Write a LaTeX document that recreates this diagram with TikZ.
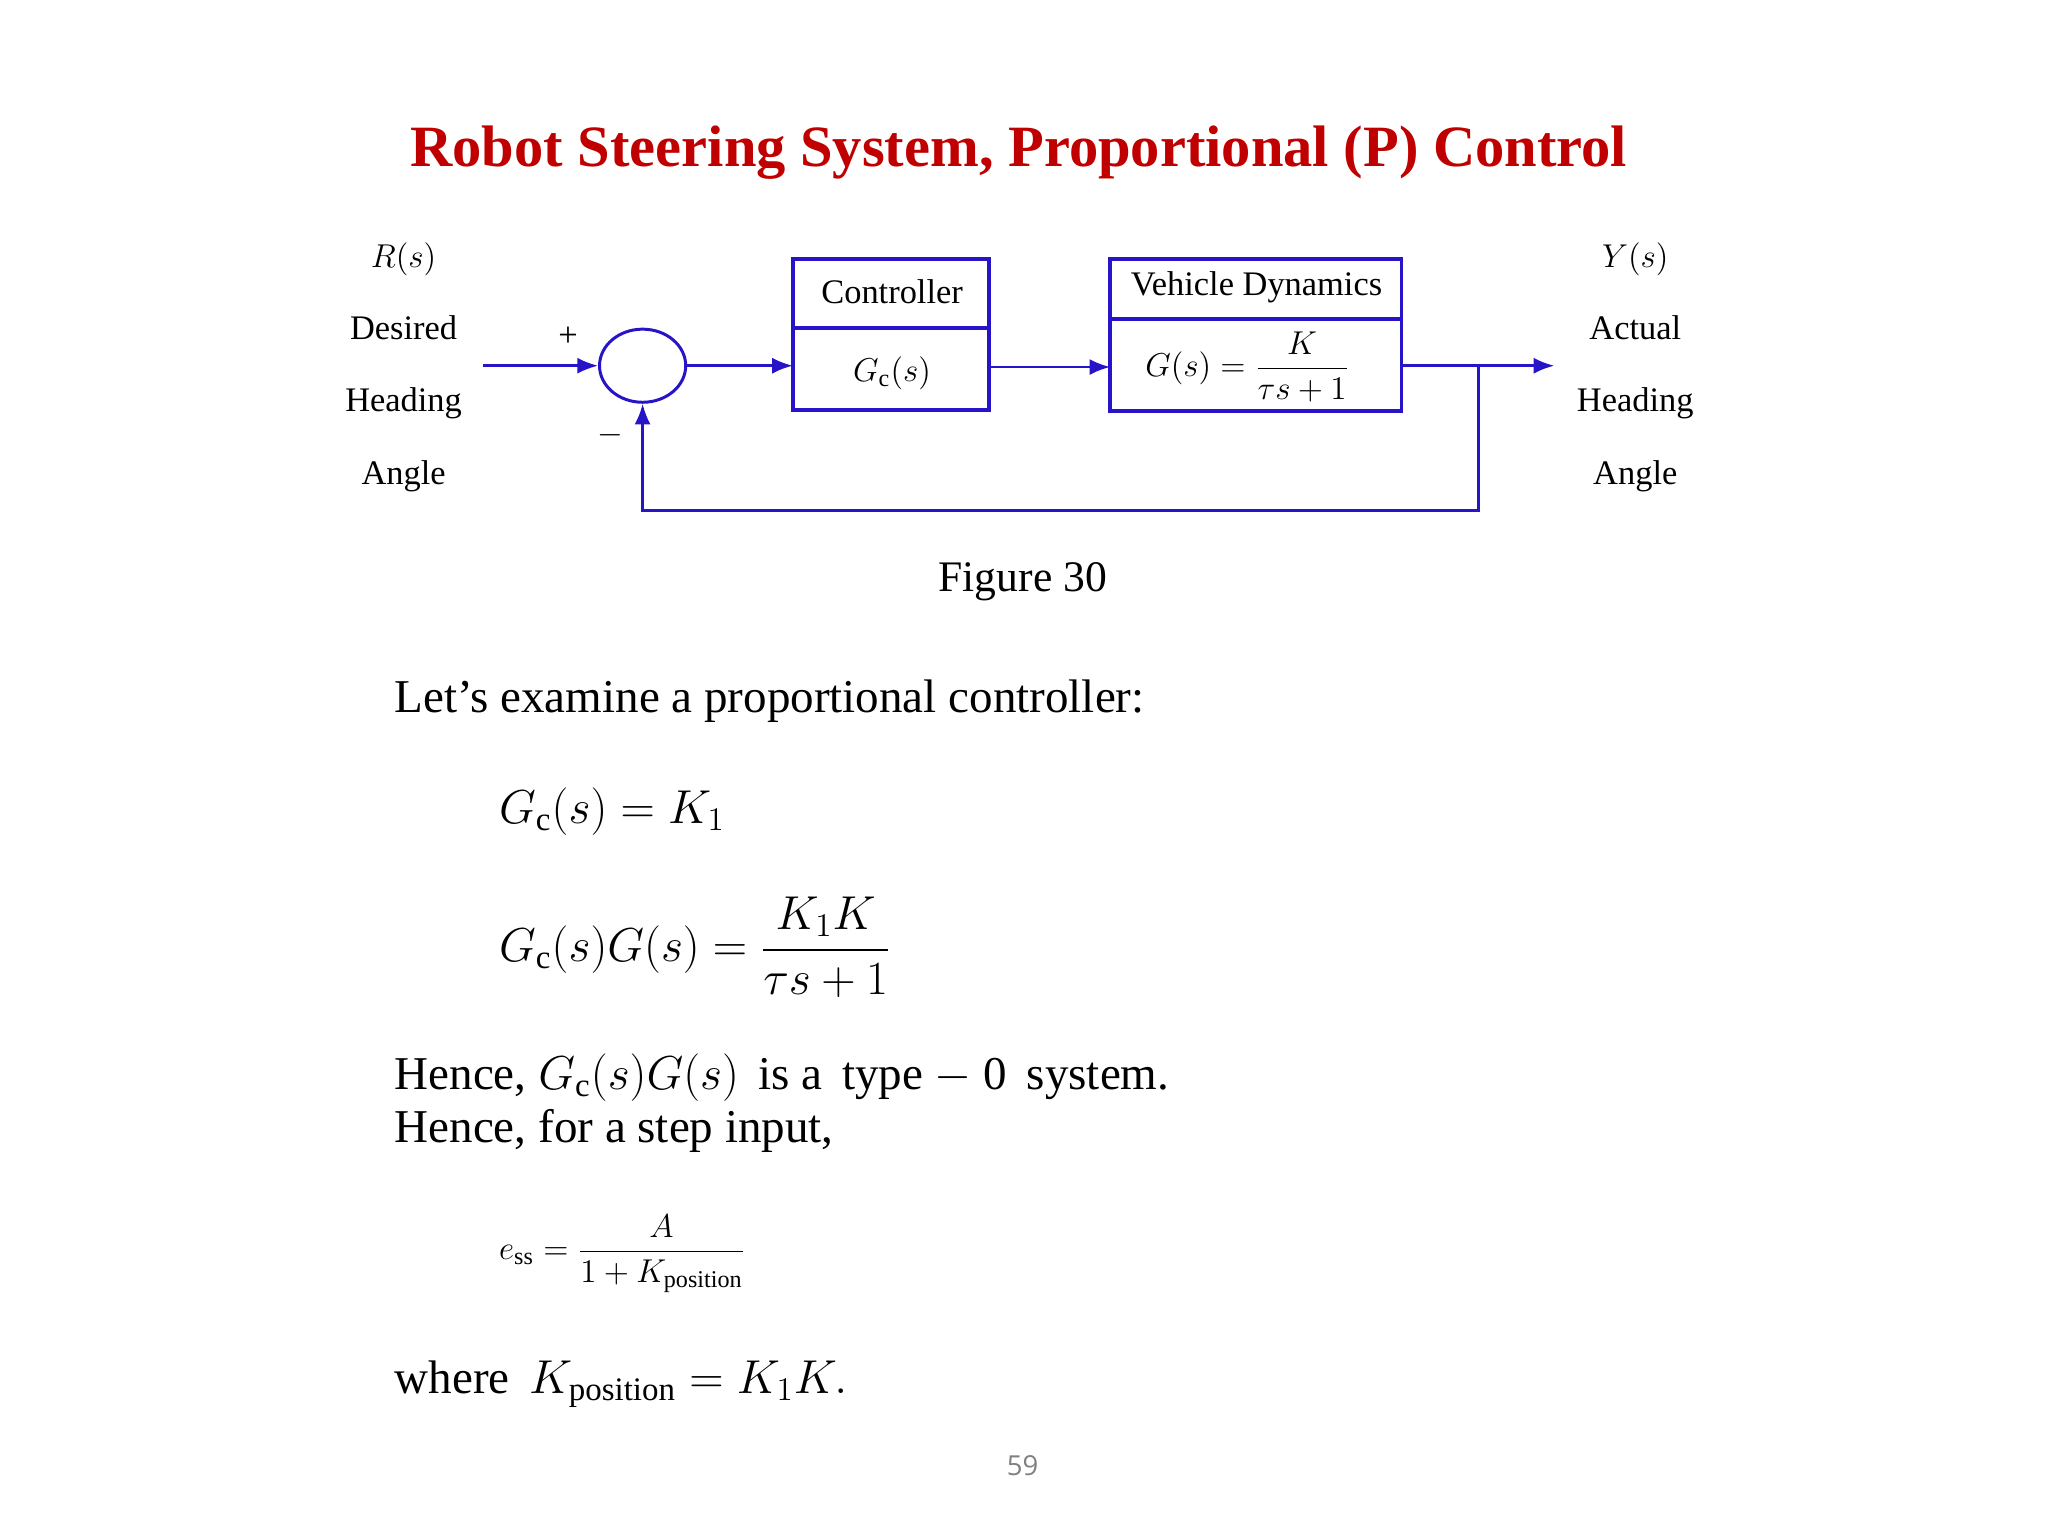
\documentclass[tikz,border=0pt]{standalone}
\usepackage{amsmath}
\usepackage{fontspec}
\setmainfont{Liberation Serif}
\setsansfont{Open Sans}
\usetikzlibrary{arrows.meta,shapes.geometric}
\definecolor{tred}{RGB}{192,0,0}
\definecolor{dblue}{RGB}{40,20,200}
\tikzset{x=0.02cm,y=-0.02cm,
 blk/.style={draw=dblue,line width=1.7pt},
 sig/.style={draw=dblue,line width=1.1pt},
 arr/.style={sig,-{Latex[length=9pt,width=7pt]}},
 lbl/.style={font=\fontsize{15}{18}\selectfont,align=center},
 body/.style={font=\fontsize{20.5}{25}\selectfont,anchor=west}}
\begin{document}
\begin{tikzpicture}
\useasboundingbox (0,0) rectangle (1568,1176);
\node[text=tred,font=\bfseries\fontsize{25.5}{30}\selectfont] (title) at (780,117) {Robot Steering System, Proportional (P) Control};
\draw[blk] (607,198) rectangle (757,314);
\draw[blk] (607,251) -- (757,251);
\draw[blk] (850,198) rectangle (1073,315);
\draw[blk] (850,244) -- (1073,244);
\node[lbl] (ct) at (683,223) {Controller};
\node[lbl] (ctf) at (683,286) {$G_{\mathrm{c}}(s)$};
\node[lbl] (vt) at (962,220) {Vehicle Dynamics};
\node[lbl] (vtf) at (955,281) {$G(s)=\dfrac{K}{\tau s+1}$};
\coordinate (cin) at (607,280);
\coordinate (cout) at (757,281);
\coordinate (vin) at (850,281);
\coordinate (vout) at (1073,280);
\node[draw=dblue,line width=1.3pt,ellipse,minimum width=1.32cm,minimum height=1.12cm,inner sep=0pt] (sum) at (492,280) {};
\coordinate (in) at (370,280);
\coordinate (out) at (1190,280);
\coordinate (br) at (1132,280);
\coordinate (c1) at (1132,391);
\coordinate (c2) at (492,391);
\draw[arr] (in) -- (sum.west);
\draw[arr] (sum.east) -- (cin);
\draw[arr] (cout) -- (vin);
\draw[arr] (vout) -- (out);
\draw[arr] (br) -- (c1) -- (c2) -- (sum.south);
\node[lbl] (plus) at (435,258) {+};
\node[lbl] (minus) at (467,333) {$-$};
\node[lbl,font=\fontsize{15}{31.5}\selectfont] (rl) at (309,281) {$R(s)$\\Desired\\Heading\\Angle};
\node[lbl,font=\fontsize{15}{31.5}\selectfont] (yl) at (1252,281) {$Y(s)$\\Actual\\Heading\\Angle};
\node[font=\fontsize{19}{22}\selectfont] (fig) at (783,445) {Figure 30};
\node[body] (t1) at (296,537) {Let’s examine a proportional controller:};
\node[body] (e1) at (376,621) {$G_{\mathrm{c}}(s)=K_1$};
\node[body] (e2) at (376,725) {$G_{\mathrm{c}}(s)G(s)=\dfrac{K_1K}{\tau s+1}$};
\node[body] (t2) at (296,825) {Hence, $G_{\mathrm{c}}(s)G(s)$\, is a\, type $-$ 0\, system.};
\node[body] (t3) at (296,866) {Hence, for a step input,};
\node[body,font=\fontsize{15}{18}\selectfont] (e3) at (376,960) {$e_{\mathrm{ss}}=\dfrac{A}{1+K_{\mathrm{position}}}$};
\node[body] (t4) at (296,1060) {where\, $K_{\mathrm{position}}=K_1K.$};
\node[font=\sffamily\fontsize{12}{14}\selectfont,text=gray] (pg) at (783,1122) {59};
\end{tikzpicture}
\end{document}
